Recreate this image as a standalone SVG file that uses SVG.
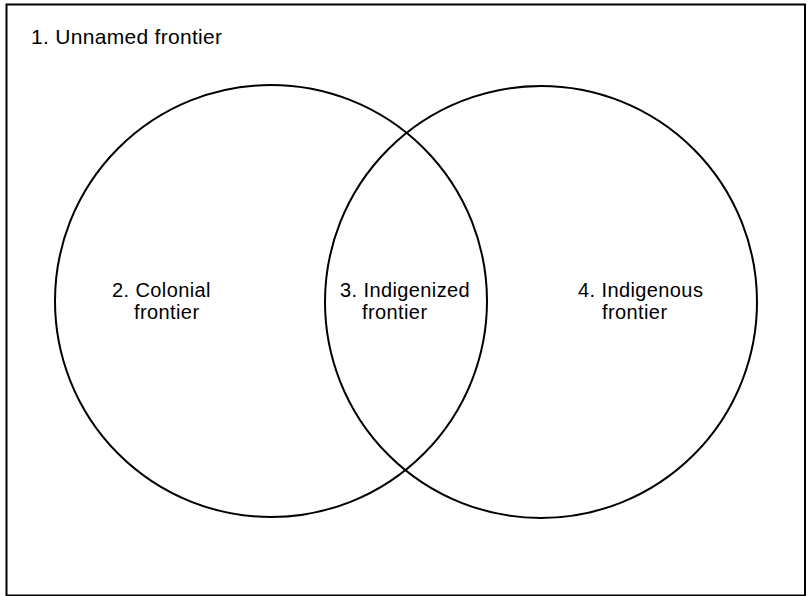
<svg xmlns="http://www.w3.org/2000/svg" width="807" height="596" viewBox="0 0 807 596">
<style>
.frame{fill:#fff;stroke:#000;stroke-width:2}
.ring{fill:none;stroke:#000;stroke-width:2}
.lbl{font-family:"Liberation Sans",Arial,Helvetica,sans-serif;font-size:20px;fill:#000;letter-spacing:0.4px}
.title{font-family:"Liberation Sans",Arial,Helvetica,sans-serif;font-size:21px;fill:#000;letter-spacing:0.3px}
</style>
<rect width="807" height="596" fill="#fff"/>
<g id="frame">
<rect class="frame" x="6.5" y="4.5" width="798.5" height="591"/>
<text class="title" x="31" y="44">1. Unnamed frontier</text>
</g>
<g id="colonial">
<circle class="ring" cx="271" cy="301" r="216"/>
<text class="lbl" x="112" y="297">2. Colonial</text>
<text class="lbl" x="134" y="319">frontier</text>
</g>
<g id="indigenous">
<circle class="ring" cx="541" cy="302" r="216"/>
<text class="lbl" x="578" y="297">4. Indigenous</text>
<text class="lbl" x="602" y="319">frontier</text>
</g>
<g id="indigenized">
<text class="lbl" x="340" y="297">3. Indigenized</text>
<text class="lbl" x="362" y="319">frontier</text>
</g>
<g id="connectors"/>
</svg>
